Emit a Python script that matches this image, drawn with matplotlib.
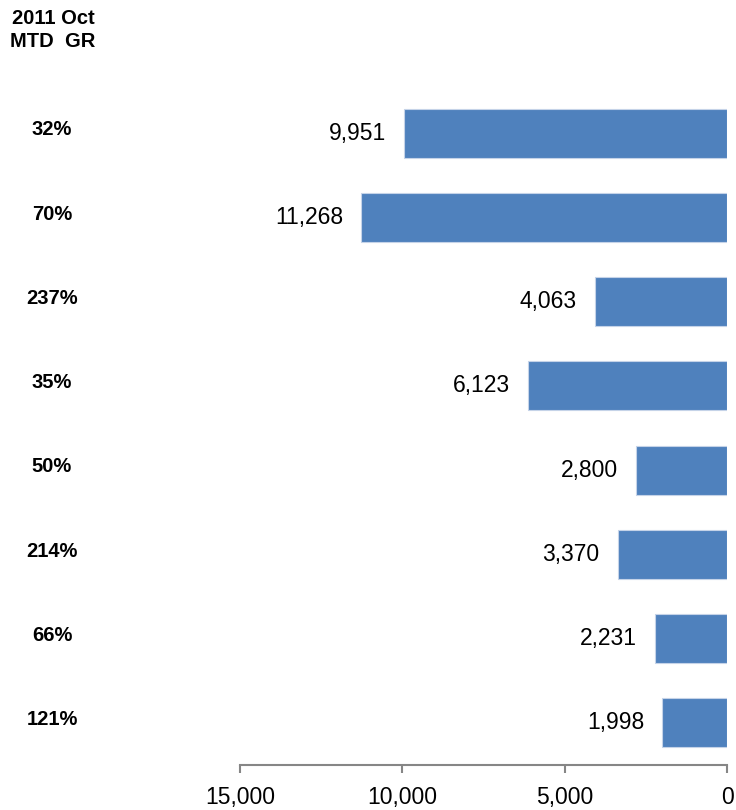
import matplotlib
matplotlib.use("Agg")
import matplotlib.pyplot as plt
from matplotlib.transforms import blended_transform_factory

growth = ["32%", "70%", "237%", "35%", "50%", "214%", "66%", "121%"]
values = [9951, 11268, 4063, 6123, 2800, 3370, 2231, 1998]
ticks = [15000, 10000, 5000, 0]
tick_labels = ["15,000", "10,000", "5,000", "0"]

plt.rcParams['font.family'] = ['Liberation Sans', 'DejaVu Sans']

fig = plt.figure(figsize=(7.36, 8.10), dpi=100)
ax = fig.add_axes([240/736, 45/810, 487/736, 674/810])

n = len(values)
ypos = list(range(n))
ax.barh(ypos, values, height=0.58, color="#4F81BD", edgecolor="#C5D3E8", linewidth=0.8)
ax.set_xlim(15000, 0)
ax.set_ylim(n - 0.5, -0.5)

for y, v in zip(ypos, values):
    ax.annotate(f"{v:,}", xy=(v, y), xytext=(-13, 0), textcoords="offset points",
                ha="right", va="center", fontsize=16.5, color="black")

trans = blended_transform_factory(fig.transFigure, ax.transData)
for y, g in zip(ypos, growth):
    ax.text(52/736, y - 0.04, g, transform=trans, ha="center", va="center",
            fontsize=14.5, fontweight="bold", color="black", clip_on=False)

fig.text(53/736, 1 - 30/810, "2011 Oct\nMTD  GR", ha="center", va="center",
         fontsize=14.5, fontweight="bold", linespacing=1.25)

for s in ["top", "left", "right"]:
    ax.spines[s].set_visible(False)
ax.spines["bottom"].set_color("#868686")
ax.spines["bottom"].set_linewidth(1.5)
ax.set_yticks([])
ax.set_xticks(ticks)
ax.set_xticklabels(tick_labels, fontsize=16.5)
ax.tick_params(axis="x", colors="#868686", length=6, width=1.5, pad=9, labelcolor="black")

fig.savefig("out.png", dpi=100)
